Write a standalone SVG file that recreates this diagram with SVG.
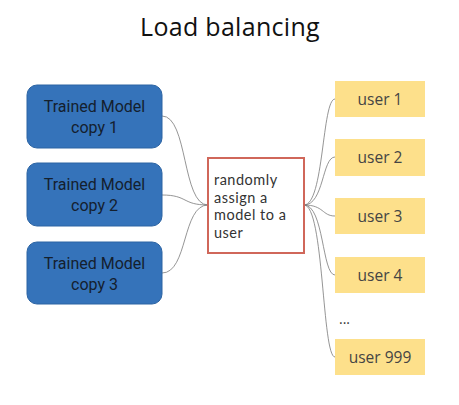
<svg xmlns="http://www.w3.org/2000/svg" width="459" height="405" viewBox="0 0 459 405">
<style>
.title{font-family:"Open Sans","Liberation Sans",sans-serif;font-size:25px;fill:#111;text-anchor:middle;letter-spacing:0.3px}
.model rect{fill:#3573ba;stroke:#2c64a3;stroke-width:1}
.model text{font-family:Roboto,"Liberation Sans",sans-serif;font-size:16px;fill:#14202e;text-anchor:middle}
.center rect{fill:#fff;stroke:#d0675a;stroke-width:2}
.center text{font-family:Lato,"Liberation Sans",sans-serif;font-size:14.5px;fill:#333;letter-spacing:0.5px}
.user rect{fill:#fde08b}
.user text{font-family:"Open Sans","Liberation Sans",sans-serif;font-size:15.5px;fill:#444;text-anchor:middle}
#connectors path{fill:none;stroke:#7a7a7a;stroke-width:0.8}
</style>
<rect width="459" height="405" fill="#fff"/>
<text class="title" x="230" y="36">Load balancing</text>
<g id="connectors">
<path d="M162,116 C188,116 182,205 208,205"/>
<path d="M162,195 C188,195 182,205 208,205"/>
<path d="M162,273 C188,273 182,205 208,205"/>
<path d="M304,205 C324,205 322,99 335,99"/>
<path d="M304,205 C324,205 322,157 335,157"/>
<path d="M304,205 C324,205 322,216 335,216"/>
<path d="M304,205 C324,205 322,275 335,275"/>
<path d="M304,205 C324,205 322,357 335,357"/>
</g>
<g id="model1" class="model"><rect x="27" y="85" width="135" height="63" rx="10"/><text x="94.5" y="112">Trained Model</text><text x="94.5" y="133">copy 1</text></g>
<g id="model2" class="model"><rect x="27" y="163" width="135" height="63" rx="10"/><text x="94.5" y="190">Trained Model</text><text x="94.5" y="211">copy 2</text></g>
<g id="model3" class="model"><rect x="27" y="242" width="135" height="62" rx="10"/><text x="94.5" y="269">Trained Model</text><text x="94.5" y="290">copy 3</text></g>
<g id="balancer" class="center"><rect x="208" y="158" width="96" height="95"/>
<text x="214" y="185">randomly</text><text x="214" y="202.5">assign a</text><text x="214" y="220">model to a</text><text x="214" y="237.5">user</text></g>
<g id="user1" class="user"><rect x="335" y="81" width="90" height="36"/><text x="380" y="104.5">user 1</text></g>
<g id="user2" class="user"><rect x="335" y="139" width="90" height="37"/><text x="380" y="163">user 2</text></g>
<g id="user3" class="user"><rect x="335" y="198" width="90" height="36"/><text x="380" y="221.5">user 3</text></g>
<g id="user4" class="user"><rect x="335" y="257" width="90" height="36"/><text x="380" y="280.5">user 4</text></g>
<text x="339" y="324" font-family="'Open Sans','Liberation Sans',sans-serif" font-size="14" fill="#333">...</text>
<g id="user999" class="user"><rect x="335" y="339" width="90" height="36"/><text x="380" y="362.5">user 999</text></g>
</svg>
